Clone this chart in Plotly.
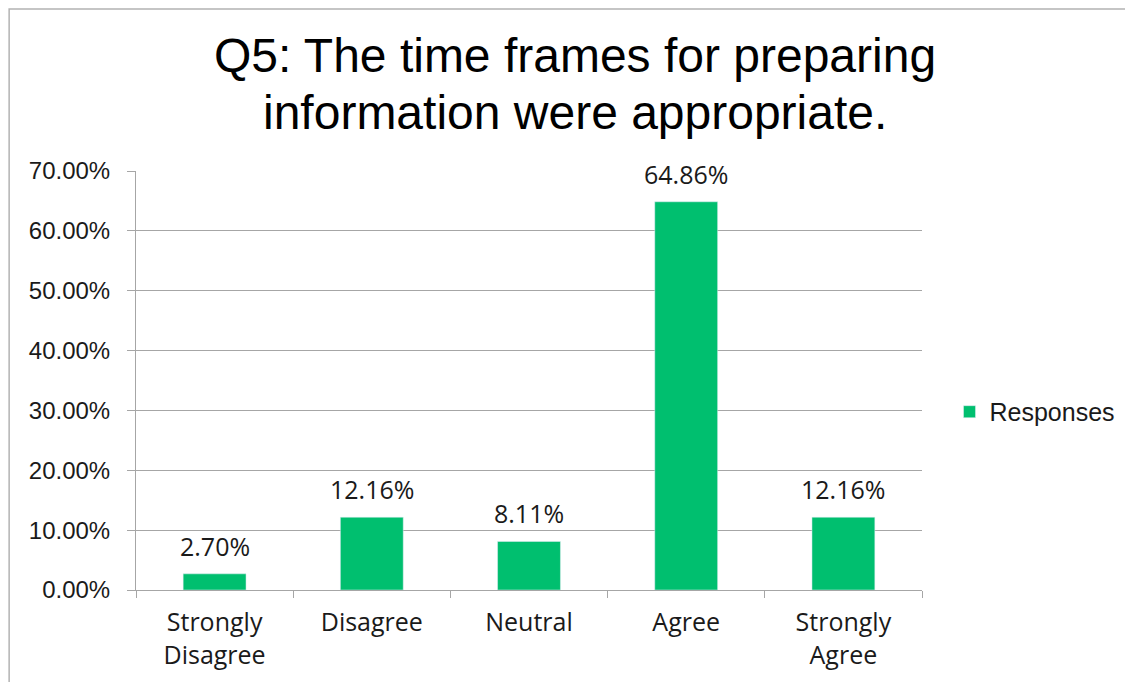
import plotly.graph_objects as go

# ── data ──────────────────────────────────────────────────────────────────────
categories = ['Strongly<br>Disagree', 'Disagree', 'Neutral', 'Agree', 'Strongly<br>Agree']
responses = [0.0270, 0.1216, 0.0811, 0.6486, 0.1216]
series_name = 'Responses'
title_lines = ['Q5: The time frames for preparing', 'information were appropriate.']

GREEN = '#00BF6F'
GRID = '#a6a6a6'
TEXT = '#1a1a1a'

# page body has an 8px margin, so the figure is sized to fit the window
W, H = 1125, 674

fig = go.Figure(go.Bar(x=categories, y=responses, name=series_name,
                       marker_color=GREEN, width=0.4, showlegend=True))

# data labels above bars
for cat, val in zip(categories, responses):
    fig.add_annotation(x=cat, y=val, text=f'{val:.2%}', showarrow=False,
                       yanchor='bottom', yshift=9,
                       font=dict(family='Open Sans', size=25, color=TEXT))

# two-line title, tighter line spacing than plotly's default
for line, ypos in zip(title_lines, [1.2745, 1.1408]):
    fig.add_annotation(text=line, xref='paper', yref='paper', x=0.558, y=ypos,
                       xanchor='center', yanchor='middle', showarrow=False,
                       font=dict(family='Liberation Sans', size=48, color='black'))

# outer chart frame (right/bottom edges fall outside the window)
fig.add_shape(type='rect', xref='paper', yref='paper',
              x0=-0.1614, x1=1.5, y0=-0.5, y1=1.3866,
              line=dict(color='#b3b3b3', width=1.5))

fig.update_layout(
    width=W, height=H,
    margin=dict(l=128, r=209, t=163, b=92),
    plot_bgcolor='white', paper_bgcolor='white',
    legend=dict(x=1.035, xanchor='left', y=0.425, yanchor='middle',
                itemwidth=30,
                font=dict(family='Liberation Sans', size=25, color=TEXT)),
    xaxis=dict(tickson='boundaries', ticks='outside', ticklen=7, tickcolor=GRID,
               showline=True, linecolor=GRID, linewidth=1,
               showgrid=False, ticklabelstandoff=10,
               tickfont=dict(family='Open Sans', size=25, color=TEXT)),
    yaxis=dict(range=[0, 0.7], dtick=0.1, tickformat='.2%',
               ticks='outside', ticklen=8, tickcolor=GRID,
               showline=True, linecolor=GRID, linewidth=1,
               showgrid=True, gridcolor=GRID, gridwidth=1,
               zeroline=False, ticklabelstandoff=12,
               tickfont=dict(family='Liberation Sans', size=24, color=TEXT)),
)

fig.write_html('out.html')
